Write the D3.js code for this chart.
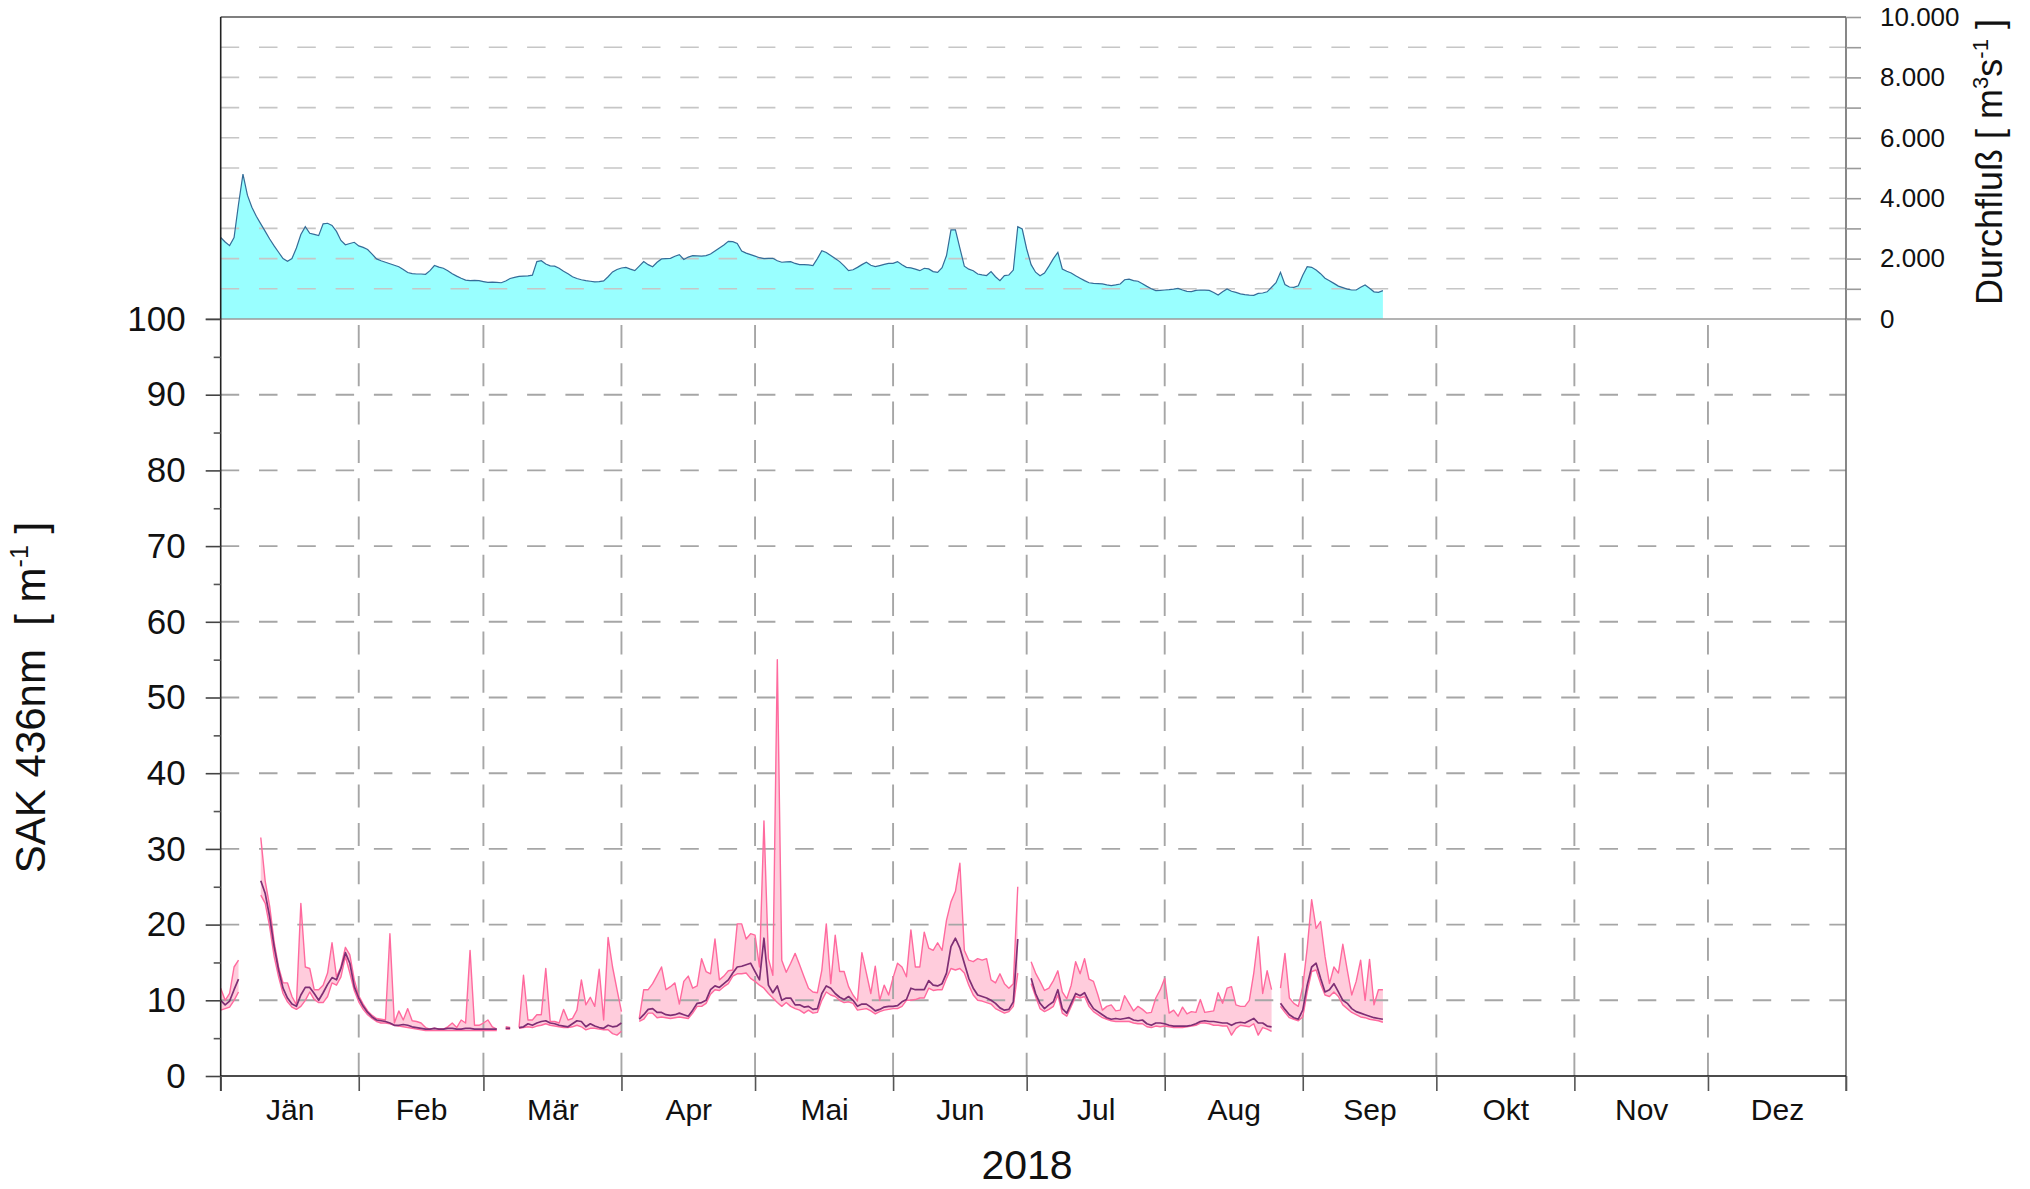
<!DOCTYPE html>
<html>
<head>
<meta charset="utf-8">
<script src="https://cdn.jsdelivr.net/npm/d3@7"></script>
<style>
  body { margin: 0; background: #fff; }
  svg { display: block; font-family: "Liberation Sans", Arial, sans-serif; }
</style>
</head>
<body>
<svg id="chart" width="2030" height="1189"></svg>
<script>
// month names (Austrian German) and the year label
const monthNames = ["Jän", "Feb", "Mär", "Apr", "Mai", "Jun", "Jul", "Aug", "Sep", "Okt", "Nov", "Dez"];
const yearLabel = "2018";

// daily discharge [m3/s], starting 1 Jan 2018
const dischargeStart = "2018-01-01";
const discharge = [
  // Jan
  2700, 2550, 2430, 2700, 3800, 4800, 4100, 3700, 3400, 3150, 2900, 2650, 2420, 2210, 2000, 1910,
  2000, 2350, 2800, 3060, 2840, 2800, 2760, 3150, 3170, 3100, 2900, 2600, 2460, 2500, 2540,
  // Feb
  2420, 2370, 2300, 2150, 1990, 1930, 1880, 1830, 1780, 1730, 1640, 1540, 1500, 1490,
  1490, 1480, 1600, 1770, 1720, 1680, 1600, 1500, 1420, 1350, 1290, 1270, 1280, 1270,
  // Mar
  1240, 1210, 1220, 1210, 1200, 1260, 1340, 1380, 1410, 1420, 1430, 1450, 1900, 1930, 1820, 1760,
  1750, 1680, 1580, 1500, 1400, 1340, 1300, 1270, 1250, 1230, 1240, 1260, 1400, 1560, 1640,
  // Apr
  1690, 1710, 1650, 1600, 1750, 1900, 1800, 1730, 1880, 1990, 2000, 2010, 2080, 2130, 1970,
  2050, 2100, 2090, 2080, 2100, 2150, 2250, 2350, 2450, 2570, 2560, 2500, 2250, 2180, 2130,
  // May
  2080, 2030, 2000, 2010, 2010, 1930, 1880, 1890, 1900, 1840, 1800, 1800, 1790, 1770, 2000, 2260,
  2200, 2100, 2000, 1900, 1760, 1600, 1630, 1710, 1800, 1877, 1780, 1733, 1770, 1810, 1844,
  // Jun
  1844, 1900, 1800, 1710, 1690, 1650, 1600, 1680, 1660, 1570, 1546, 1700, 2100, 2950, 2950,
  2350, 1750, 1650, 1600, 1490, 1460, 1440, 1568, 1400, 1270, 1435, 1457, 1620, 3058, 2980,
  // Jul
  2318, 1800, 1550, 1435, 1520, 1750, 2000, 2208, 1656, 1580, 1524, 1430, 1350, 1270, 1200, 1180,
  1170, 1160, 1130, 1104, 1130, 1160, 1300, 1320, 1270, 1250, 1170, 1080, 1000, 940, 950,
  // Aug
  960, 970, 990, 1016, 960, 916, 905, 950, 960, 955, 949, 880, 795, 900, 994, 920,
  880, 830, 806, 790, 784, 850, 860, 900, 1050, 1200, 1546, 1140, 1060, 1050, 1100,
  // Sep
  1450, 1733, 1711, 1620, 1500, 1350, 1270, 1180, 1090, 1040, 990, 960, 960, 1050, 1126, 1016,
  900, 883, 938
];

// SAK 436nm [1/m]: measured stretches (gaps between them), daily max / mean / min
const sakSegmentStart = ["2018-01-01", "2018-01-10", "2018-03-06", "2018-03-09", "2018-04-05", "2018-07-02", "2018-08-27"];

const sakMax = [
  [11.6, 10.0, 10.9, 14.4, 15.3],
  [31.5, 25.7, 22.4, 17.7, 14.4, 12.3, 12.3, 10.5, 9.4, 22.8, 14.4, 14.2, 11.4, 11.4, 12.0, 13.6, 17.6,
   13.1, 14.4, 17.0, 16.0, 12.7, 10.6, 9.5, 8.6, 8.0, 7.6, 7.5, 7.4, 18.8, 7.0, 8.6, 7.4, 8.9, 7.3,
   7.2, 7.0, 6.4, 6.2, 6.3, 6.2, 6.2, 6.5, 7.0, 6.4, 7.4, 7.0, 16.6, 6.7, 6.7, 7.0, 7.4, 6.5, 6.2],
  [6.5, 6.4],
  [6.4, 13.3, 7.4, 7.4, 8.1, 8.1, 14.2, 7.2, 7.2, 7.0, 8.8, 7.4, 7.6, 8.7, 12.7, 9.4, 10.4, 9.2,
   14.1, 7.4, 18.3, 14.4, 11.4, 8.5],
  [7.6, 11.4, 11.4, 12.2, 13.3, 14.4, 11.4, 11.8, 12.3, 9.5, 12.5, 13.2, 11.6, 11.9, 15.5, 13.8,
   13.5, 18.1, 12.7, 13.2, 13.9, 14.0, 20.1, 20.1, 18.1, 18.8, 18.6, 14.4, 33.7, 15.5, 13.3, 55.0,
   15.3, 13.7, 14.9, 16.2, 14.7, 13.1, 11.6, 11.1, 11.0, 14.0, 20.1, 12.2, 18.6, 13.8, 13.8, 11.8,
   10.7, 9.9, 16.3, 13.6, 10.9, 14.5, 10.0, 12.0, 10.7, 13.0, 14.9, 14.4, 13.1, 19.3, 14.4, 14.4,
   19.0, 16.9, 16.6, 17.6, 16.6, 20.6, 23.0, 24.4, 28.1, 16.6, 15.3, 15.1, 15.5, 15.3, 15.5, 12.7,
   12.3, 13.5, 12.2, 11.6, 12.2, 25.0],
  [15.1, 13.6, 12.5, 11.3, 11.6, 12.6, 13.9, 11.1, 10.2, 12.0, 15.1, 13.5, 15.5, 12.8, 12.5, 10.7,
   8.7, 9.2, 9.4, 8.6, 8.7, 10.6, 9.6, 8.6, 9.2, 8.8, 8.3, 8.4, 10.3, 11.4, 12.9, 8.3, 8.7, 7.9,
   9.1, 8.2, 8.5, 8.4, 10.1, 8.4, 8.5, 8.6, 11.0, 9.6, 11.6, 11.8, 9.4, 9.2, 9.2, 10.0, 13.6, 18.4,
   10.9, 13.9, 11.4],
  [11.6, 16.2, 10.3, 9.6, 9.2, 11.8, 16.9, 23.3, 19.5, 20.4, 15.8, 12.2, 14.4, 13.6, 17.4, 14.0,
   10.7, 12.5, 15.3, 10.0, 15.4, 9.4, 11.4, 11.4]
];

const sakMean = [
  [10.0, 9.4, 9.9, 11.4, 12.8],
  [25.8, 24.1, 21.0, 17.1, 14.0, 11.6, 10.3, 9.5, 9.2, 10.7, 11.7, 11.7, 10.9, 10.0, 11.0, 12.1, 13.0,
   12.7, 14.2, 16.3, 14.9, 11.8, 10.3, 9.2, 8.4, 7.8, 7.4, 7.3, 7.2, 7.0, 6.7, 6.7, 6.8, 6.7, 6.5,
   6.4, 6.3, 6.2, 6.2, 6.3, 6.2, 6.2, 6.3, 6.3, 6.2, 6.2, 6.3, 6.3, 6.2, 6.2, 6.2, 6.2, 6.2, 6.2],
  [6.3, 6.3],
  [6.4, 6.5, 6.9, 6.7, 7.0, 7.2, 7.3, 7.0, 6.9, 6.7, 6.6, 6.5, 6.9, 7.3, 7.2, 6.5, 6.9, 6.6, 6.4,
   6.3, 6.7, 6.5, 6.6, 7.0],
  [7.5, 8.1, 8.8, 8.9, 8.4, 8.4, 8.1, 8.0, 8.1, 8.3, 8.1, 7.9, 8.7, 9.6, 9.7, 10.0, 11.4, 11.9,
   11.7, 12.2, 12.7, 13.6, 14.4, 14.5, 14.7, 14.9, 13.8, 12.7, 18.2, 12.0, 11.0, 11.9, 10.0, 10.3,
   10.3, 9.4, 9.4, 9.1, 9.2, 8.8, 8.9, 10.9, 11.9, 11.6, 10.9, 10.4, 10.1, 10.5, 10.0, 9.2, 9.5,
   9.5, 9.1, 8.6, 8.8, 9.1, 9.2, 9.2, 9.3, 9.8, 10.1, 11.6, 11.4, 11.4, 11.4, 12.6, 12.0, 11.9,
   12.2, 13.6, 17.1, 18.2, 16.9, 14.9, 12.9, 11.6, 10.7, 10.5, 10.3, 10.0, 9.6, 9.0, 8.7, 8.8,
   9.8, 18.1],
  [12.9, 10.9, 9.6, 8.9, 9.4, 9.8, 11.4, 8.9, 8.3, 9.6, 10.9, 10.6, 11.0, 9.8, 8.9, 8.5, 8.1, 7.7,
   7.5, 7.6, 7.5, 7.6, 7.7, 7.4, 7.3, 7.4, 6.9, 6.7, 7.0, 7.0, 6.9, 6.7, 6.6, 6.6, 6.6, 6.6, 6.7,
   6.9, 7.2, 7.3, 7.2, 7.2, 7.1, 7.0, 7.0, 6.7, 7.0, 7.1, 7.0, 7.3, 7.6, 7.0, 7.0, 6.6, 6.5],
  [9.6, 8.8, 8.1, 7.7, 7.5, 8.7, 12.0, 14.4, 14.9, 12.9, 11.1, 11.4, 12.2, 11.1, 10.0, 9.6, 8.9,
   8.5, 8.3, 8.1, 7.9, 7.7, 7.6, 7.5]
];

const sakMin = [
  [8.7, 8.9, 9.1, 10.0, 11.1],
  [23.9, 22.8, 19.7, 15.8, 13.1, 10.9, 9.8, 9.1, 8.8, 9.2, 10.0, 11.1, 10.1, 9.7, 9.7, 10.5, 12.3,
   12.0, 13.1, 15.8, 13.6, 11.3, 9.8, 8.8, 8.1, 7.6, 7.2, 7.0, 7.0, 6.9, 6.7, 6.6, 6.5, 6.4, 6.3,
   6.2, 6.1, 6.0, 6.0, 6.0, 6.0, 6.0, 6.0, 6.0, 6.0, 6.0, 6.0, 6.0, 6.0, 6.0, 6.0, 6.0, 6.0, 6.0],
  [6.2, 6.2],
  [6.3, 6.4, 6.5, 6.4, 6.6, 6.7, 6.9, 6.7, 6.6, 6.5, 6.4, 6.4, 6.5, 6.7, 6.5, 6.1, 6.3, 6.3, 6.2,
   6.1, 6.1, 5.6, 5.4, 5.9],
  [7.2, 7.5, 8.3, 8.3, 7.7, 7.8, 7.7, 7.6, 7.7, 7.8, 7.7, 7.6, 8.3, 9.2, 9.2, 9.6, 10.8, 11.4,
   11.3, 11.8, 12.2, 13.2, 13.5, 13.5, 13.6, 12.9, 12.5, 12.0, 11.6, 10.9, 10.3, 9.7, 9.2, 9.7,
   9.2, 8.9, 8.7, 8.3, 8.7, 8.3, 8.4, 10.0, 11.1, 10.7, 10.5, 10.0, 9.7, 9.8, 9.6, 8.7, 8.8, 8.9,
   8.6, 8.2, 8.5, 8.7, 8.8, 8.9, 8.9, 9.2, 10.0, 10.0, 10.1, 10.3, 10.3, 11.6, 11.3, 11.4, 11.4,
   12.9, 14.2, 14.0, 14.2, 13.6, 12.0, 10.7, 10.0, 9.9, 9.7, 9.5, 8.9, 8.6, 8.3, 8.5, 9.2, 13.6],
  [12.2, 10.5, 8.9, 8.5, 8.8, 9.2, 10.7, 8.3, 7.9, 9.2, 10.5, 10.3, 10.5, 9.2, 8.5, 8.1, 7.7, 7.5,
   7.3, 7.2, 7.2, 7.2, 7.2, 7.0, 6.9, 6.9, 6.5, 6.4, 6.6, 6.5, 6.6, 6.5, 6.4, 6.4, 6.4, 6.5, 6.6,
   6.7, 7.0, 7.0, 6.9, 6.7, 6.7, 6.6, 6.6, 5.4, 6.3, 6.7, 6.6, 6.5, 6.9, 5.4, 6.4, 6.2, 5.9],
  [9.2, 8.4, 7.7, 7.5, 7.3, 7.8, 11.1, 13.8, 14.0, 12.2, 10.7, 10.5, 11.1, 10.5, 9.4, 8.9, 8.4,
   8.1, 7.8, 7.7, 7.5, 7.4, 7.3, 7.1]
];

const dischargeTicks = d3.range(0, 10001, 1000);
const sakTicks = d3.range(0, 101, 10);
const sakMinorTicks = d3.range(5, 100, 10);

// ---- layout ----
const plotLeft = 220.7, plotRight = 1846;
const plotTop = 17, plotMid = 319, plotBottom = 1076;

const svg = d3.select("#chart");
const parse = d3.utcParse("%Y-%m-%d");
const yearStart = Date.UTC(2018, 0, 1), yearEnd = Date.UTC(2019, 0, 1);

const x = d3.scaleUtc().domain([yearStart, yearEnd]).range([plotLeft, plotRight]);
const yQ = d3.scaleLinear().domain([0, 10000]).range([plotMid, plotTop]);
const yS = d3.scaleLinear().domain([0, 100]).range([plotBottom, plotMid]);

const deFormat = d3.formatLocale({ decimal: ",", thousands: ".", grouping: [3], currency: ["", " €"] }).format(",");

// discharge series
const q0 = parse(dischargeStart);
const qData = discharge.map((v, i) => ({ date: d3.utcDay.offset(q0, i), v: v }));

// SAK series, one array of points per measured stretch
const sakData = sakSegmentStart.map((s, k) => {
  const d0 = parse(s);
  return sakMean[k].map((m, i) => ({
    date: d3.utcDay.offset(d0, i),
    max: sakMax[k][i],
    mean: m,
    min: sakMin[k][i]
  }));
});

// ---- fills ----
svg.append("path")
  .datum(qData)
  .attr("fill", "#99ffff")
  .attr("d", d3.area().x(d => x(d.date)).y0(yQ(0)).y1(d => yQ(d.v)));

const band = d3.area().x(d => x(d.date)).y0(d => yS(d.min)).y1(d => yS(d.max));
svg.append("g").selectAll("path")
  .data(sakData)
  .join("path")
  .attr("fill", "#ffccdc")
  .attr("d", band);

// ---- grid ----
const grid = svg.append("g").attr("fill", "none");

grid.selectAll(".gq")
  .data(dischargeTicks.filter(v => v > 0 && v < 10000))
  .join("line")
  .attr("x1", plotLeft).attr("x2", plotRight)
  .attr("y1", d => yQ(d)).attr("y2", d => yQ(d))
  .attr("stroke", "#c6c6c6")
  .attr("stroke-width", 1.6)
  .attr("stroke-dasharray", "18.5 19.8");

grid.selectAll(".gs")
  .data(sakTicks.filter(v => v > 0 && v < 100))
  .join("line")
  .attr("x1", plotLeft).attr("x2", plotRight)
  .attr("y1", d => yS(d)).attr("y2", d => yS(d))
  .attr("stroke", "#a6a6a6")
  .attr("stroke-width", 1.9)
  .attr("stroke-dasharray", "18.5 19.8");

const monthStarts = d3.utcMonth.range(yearStart, yearEnd + 1);
grid.selectAll(".gm")
  .data(monthStarts.slice(1, 12))
  .join("line")
  .attr("x1", d => x(d)).attr("x2", d => x(d))
  .attr("y1", plotMid + 6).attr("y2", plotBottom)
  .attr("stroke", "#a6a6a6")
  .attr("stroke-width", 1.9)
  .attr("stroke-dasharray", "23 15.3");

// ---- lines ----
svg.append("path")
  .datum(qData)
  .attr("fill", "none")
  .attr("stroke", "#346c98")
  .attr("stroke-width", 1.2)
  .attr("d", d3.line().x(d => x(d.date)).y(d => yQ(d.v)));

const sakLines = svg.append("g").attr("fill", "none").attr("stroke-linejoin", "round");
["max", "min"].forEach(key => {
  sakLines.append("g").selectAll("path")
    .data(sakData)
    .join("path")
    .attr("stroke", "#ff6a9e")
    .attr("stroke-width", 1.4)
    .attr("d", d3.line().x(d => x(d.date)).y(d => yS(d[key])));
});
sakLines.append("g").selectAll("path")
  .data(sakData)
  .join("path")
  .attr("stroke", "#7e2e74")
  .attr("stroke-width", 1.7)
  .attr("d", d3.line().x(d => x(d.date)).y(d => yS(d.mean)));

// ---- frame ----
const frame = svg.append("g").attr("stroke-width", 1.6);
frame.append("line").attr("x1", plotLeft - 15).attr("x2", plotRight + 15).attr("y1", plotMid).attr("y2", plotMid).attr("stroke", "#9a9a9a");
frame.append("line").attr("x1", plotLeft).attr("x2", plotRight).attr("y1", plotTop).attr("y2", plotTop).attr("stroke", "#555");
frame.append("line").attr("x1", plotRight).attr("x2", plotRight).attr("y1", plotTop).attr("y2", plotBottom + 15).attr("stroke", "#6a6a6a");
frame.append("line").attr("x1", plotLeft).attr("x2", plotLeft).attr("y1", plotTop).attr("y2", plotBottom + 15).attr("stroke", "#222");
frame.append("line").attr("x1", plotLeft).attr("x2", plotRight).attr("y1", plotBottom).attr("y2", plotBottom).attr("stroke", "#111");

// ---- axes ----
function styleAxis(g, size, color) {
  g.select(".domain").remove();
  g.selectAll(".tick line").attr("stroke", color).attr("stroke-width", 1.6);
  g.selectAll(".tick text").attr("font-size", size).attr("fill", "#111")
    .attr("font-family", "'Liberation Sans', Arial, sans-serif");
}

// left SAK axis
svg.append("g")
  .attr("transform", `translate(${plotLeft},0)`)
  .call(d3.axisLeft(yS).tickValues(sakTicks).tickSize(15).tickPadding(20))
  .call(g => styleAxis(g, 35, "#444"));
svg.append("g")
  .attr("transform", `translate(${plotLeft},0)`)
  .call(d3.axisLeft(yS).tickValues(sakMinorTicks).tickSize(7).tickFormat(""))
  .call(g => styleAxis(g, 35, "#555"));

// right discharge axis
svg.append("g")
  .attr("transform", `translate(${plotRight},0)`)
  .call(d3.axisRight(yQ).tickValues(dischargeTicks).tickSize(15).tickPadding(19)
    .tickFormat(v => v % 2000 === 0 ? deFormat(v) : ""))
  .call(g => styleAxis(g, 26, "#9a9a9a"));

// month ticks and labels
svg.append("g")
  .attr("transform", `translate(0,${plotBottom})`)
  .call(d3.axisBottom(x).tickValues(monthStarts).tickSize(15).tickFormat(""))
  .call(g => styleAxis(g, 30, "#555"));

const monthMids = monthStarts.slice(0, 12).map((d, i) => new Date((+d + +monthStarts[i + 1]) / 2));
svg.append("g")
  .attr("transform", `translate(0,${plotBottom})`)
  .call(d3.axisBottom(x).tickValues(monthMids).tickSize(0).tickPadding(22.5)
    .tickFormat((d, i) => monthNames[i]))
  .call(g => styleAxis(g, 30, "none"));

svg.append("text")
  .attr("x", 1027).attr("y", 1179)
  .attr("text-anchor", "middle")
  .attr("font-size", 41)
  .attr("fill", "#111")
  .text(yearLabel);

// axis titles
const tl = svg.append("text")
  .attr("transform", `translate(45,${(plotMid + plotBottom) / 2}) rotate(-90)`)
  .attr("text-anchor", "middle")
  .attr("font-size", 42)
  .attr("fill", "#111")
  .style("white-space", "pre");
tl.append("tspan").text("SAK 436nm  [ m");
tl.append("tspan").attr("font-size", 25).attr("dy", -17).text("-1");
tl.append("tspan").attr("dy", 17).text(" ]");

const tr = svg.append("text")
  .attr("transform", `translate(2002,${(plotTop + plotMid) / 2 - 6}) rotate(-90)`)
  .attr("text-anchor", "middle")
  .attr("font-size", 36)
  .attr("fill", "#111")
  .style("white-space", "pre");
tr.append("tspan").text("Durchfluß [ m");
tr.append("tspan").attr("font-size", 22).attr("dy", -14).text("3");
tr.append("tspan").attr("dy", 14).text("s");
tr.append("tspan").attr("font-size", 22).attr("dy", -14).text("-1");
tr.append("tspan").attr("dy", 14).text(" ]");
</script>
</body>
</html>
